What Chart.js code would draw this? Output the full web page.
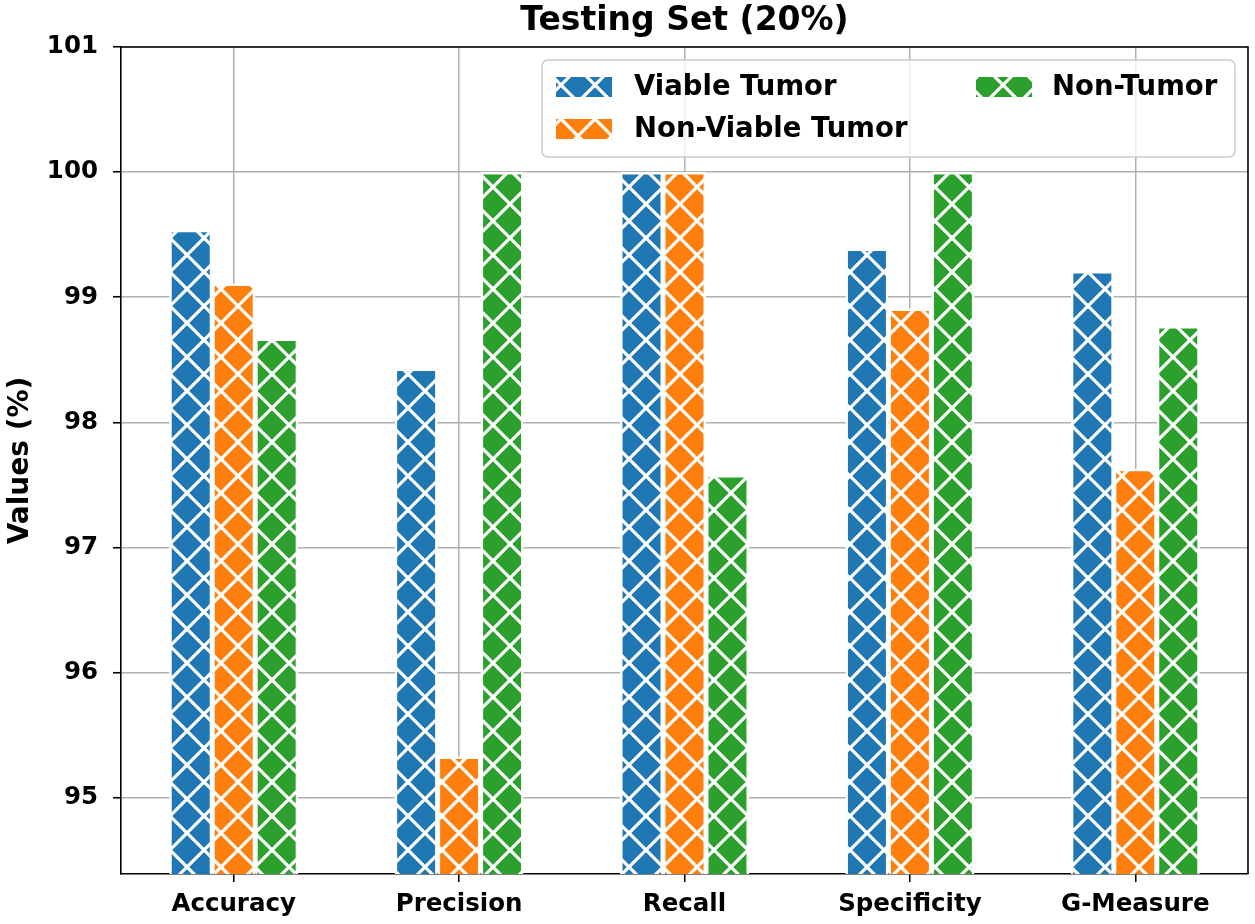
<!DOCTYPE html>
<html>
<head>
<meta charset="utf-8">
<script src="https://cdn.jsdelivr.net/npm/chart.js@4.4.1/dist/chart.umd.min.js"></script>
<style>
  body { margin: 0; background: #fff; }
  canvas { display: block; }
</style>
</head>
<body>
<canvas id="chart" width="1255" height="924"></canvas>
<script>
const categories = ['Accuracy', 'Precision', 'Recall', 'Specificity', 'G-Measure'];
const viableTumor = [99.54, 98.43, 100, 99.39, 99.21];
const nonViableTumor = [99.11, 95.33, 100, 98.91, 97.63];
const nonTumor = [98.67, 100, 97.58, 100, 98.77];
const yTicks = [95, 96, 97, 98, 99, 100, 101];

const FONT = 'DejaVu Sans';

// white "x" hatch over the bar colour
function hatch(color) {
  const s = 34;
  const c = document.createElement('canvas');
  c.width = s; c.height = s;
  const g = c.getContext('2d');
  g.fillStyle = color;
  g.fillRect(0, 0, s, s);
  g.strokeStyle = '#fff';
  g.lineWidth = 3.2;
  g.beginPath();
  for (let k = -1; k <= 1; k++) {
    g.moveTo(k * s, 0); g.lineTo(k * s + s, s);
    g.moveTo(k * s + s, 0); g.lineTo(k * s, s);
  }
  g.stroke();
  return g.createPattern(c, 'repeat');
}

const series = [
  { label: 'Viable Tumor', data: viableTumor, color: '#1f77b4' },
  { label: 'Non-Viable Tumor', data: nonViableTumor, color: '#ff7f0e' },
  { label: 'Non-Tumor', data: nonTumor, color: '#2ca02c' }
];

// top and right spines
const frame = {
  id: 'frame',
  afterDatasetsDraw(chart) {
    const { ctx, chartArea: a } = chart;
    ctx.save();
    ctx.strokeStyle = '#000';
    ctx.lineWidth = 1.6;
    ctx.beginPath();
    ctx.moveTo(a.left, a.top);
    ctx.lineTo(a.right, a.top);
    ctx.lineTo(a.right, a.bottom);
    ctx.stroke();
    ctx.restore();
  }
};

// matplotlib-like legend, 2 columns filled column by column
const boxLegend = {
  id: 'boxLegend',
  afterDraw(chart) {
    const { ctx } = chart;
    const x0 = 542, y0 = 60, w = 693, h = 97, r = 6;
    ctx.save();
    ctx.fillStyle = 'rgba(255,255,255,0.8)';
    ctx.strokeStyle = '#cccccc';
    ctx.lineWidth = 1.5;
    ctx.beginPath();
    ctx.roundRect(x0, y0, w, h, r);
    ctx.fill();
    ctx.stroke();
    const slots = [
      { hx: 556, tx: 634, y: 87 },
      { hx: 556, tx: 634, y: 129 },
      { hx: 976, tx: 1052, y: 87 }
    ];
    ctx.font = 'bold 27.5px "' + FONT + '"';
    ctx.textBaseline = 'middle';
    ctx.fillStyle = '#000';
    chart.data.datasets.forEach((ds, i) => {
      const s = slots[i];
      ctx.fillStyle = ds.backgroundColor;
      ctx.fillRect(s.hx, s.y - 10, 56, 20);
      ctx.fillStyle = '#000';
      ctx.fillText(ds.label, s.tx, s.y + 1);
    });
    ctx.restore();
  }
};

new Chart(document.getElementById('chart'), {
  type: 'bar',
  data: {
    labels: categories,
    datasets: series.map(s => ({
      label: s.label,
      data: s.data,
      backgroundColor: hatch(s.color),
      borderColor: '#ffffff',
      borderWidth: 2.5,
      barPercentage: 1.0,
      categoryPercentage: 0.572
    }))
  },
  options: {
    responsive: false,
    devicePixelRatio: 1,
    animation: false,
    layout: { padding: { left: 0, right: 7, top: 0, bottom: 0 } },
    plugins: {
      legend: { display: false },
      tooltip: { enabled: false },
      title: {
        display: true,
        fullSize: false,
        text: 'Testing Set (20%)',
        color: '#000',
        font: { family: FONT, size: 33, weight: 'bold', lineHeight: 1.2 },
        padding: { top: 2, bottom: 5.4 }
      }
    },
    scales: {
      x: {
        offset: true,
        grid: {
          offset: false,
          color: '#b0b0b0',
          lineWidth: 1.5,
          tickColor: '#000',
          tickWidth: 1.6,
          tickLength: 8
        },
        border: { color: '#000', width: 1.6 },
        ticks: {
          color: '#000',
          padding: 8,
          maxRotation: 0,
          font: { family: FONT, size: 24.5, weight: 'bold' }
        },
        afterFit(scale) { scale.height = 50; }
      },
      y: {
        min: 94.39,
        max: 101,
        afterBuildTicks(scale) { scale.ticks = yTicks.map(v => ({ value: v })); },
        grid: {
          color: '#b0b0b0',
          lineWidth: 1.5,
          tickColor: '#000',
          tickWidth: 1.6,
          tickLength: 8
        },
        border: { color: '#000', width: 1.6 },
        ticks: {
          color: '#000',
          padding: 15,
          font: { family: FONT, size: 24.5, weight: 'bold' }
        },
        title: {
          display: true,
          text: 'Values (%)',
          color: '#000',
          font: { family: FONT, size: 28, weight: 'bold' },
          padding: { top: 4, bottom: 0 }
        },
        afterFit(scale) { scale.width = 121; }
      }
    }
  },
  plugins: [frame, boxLegend]
});
</script>
</body>
</html>
